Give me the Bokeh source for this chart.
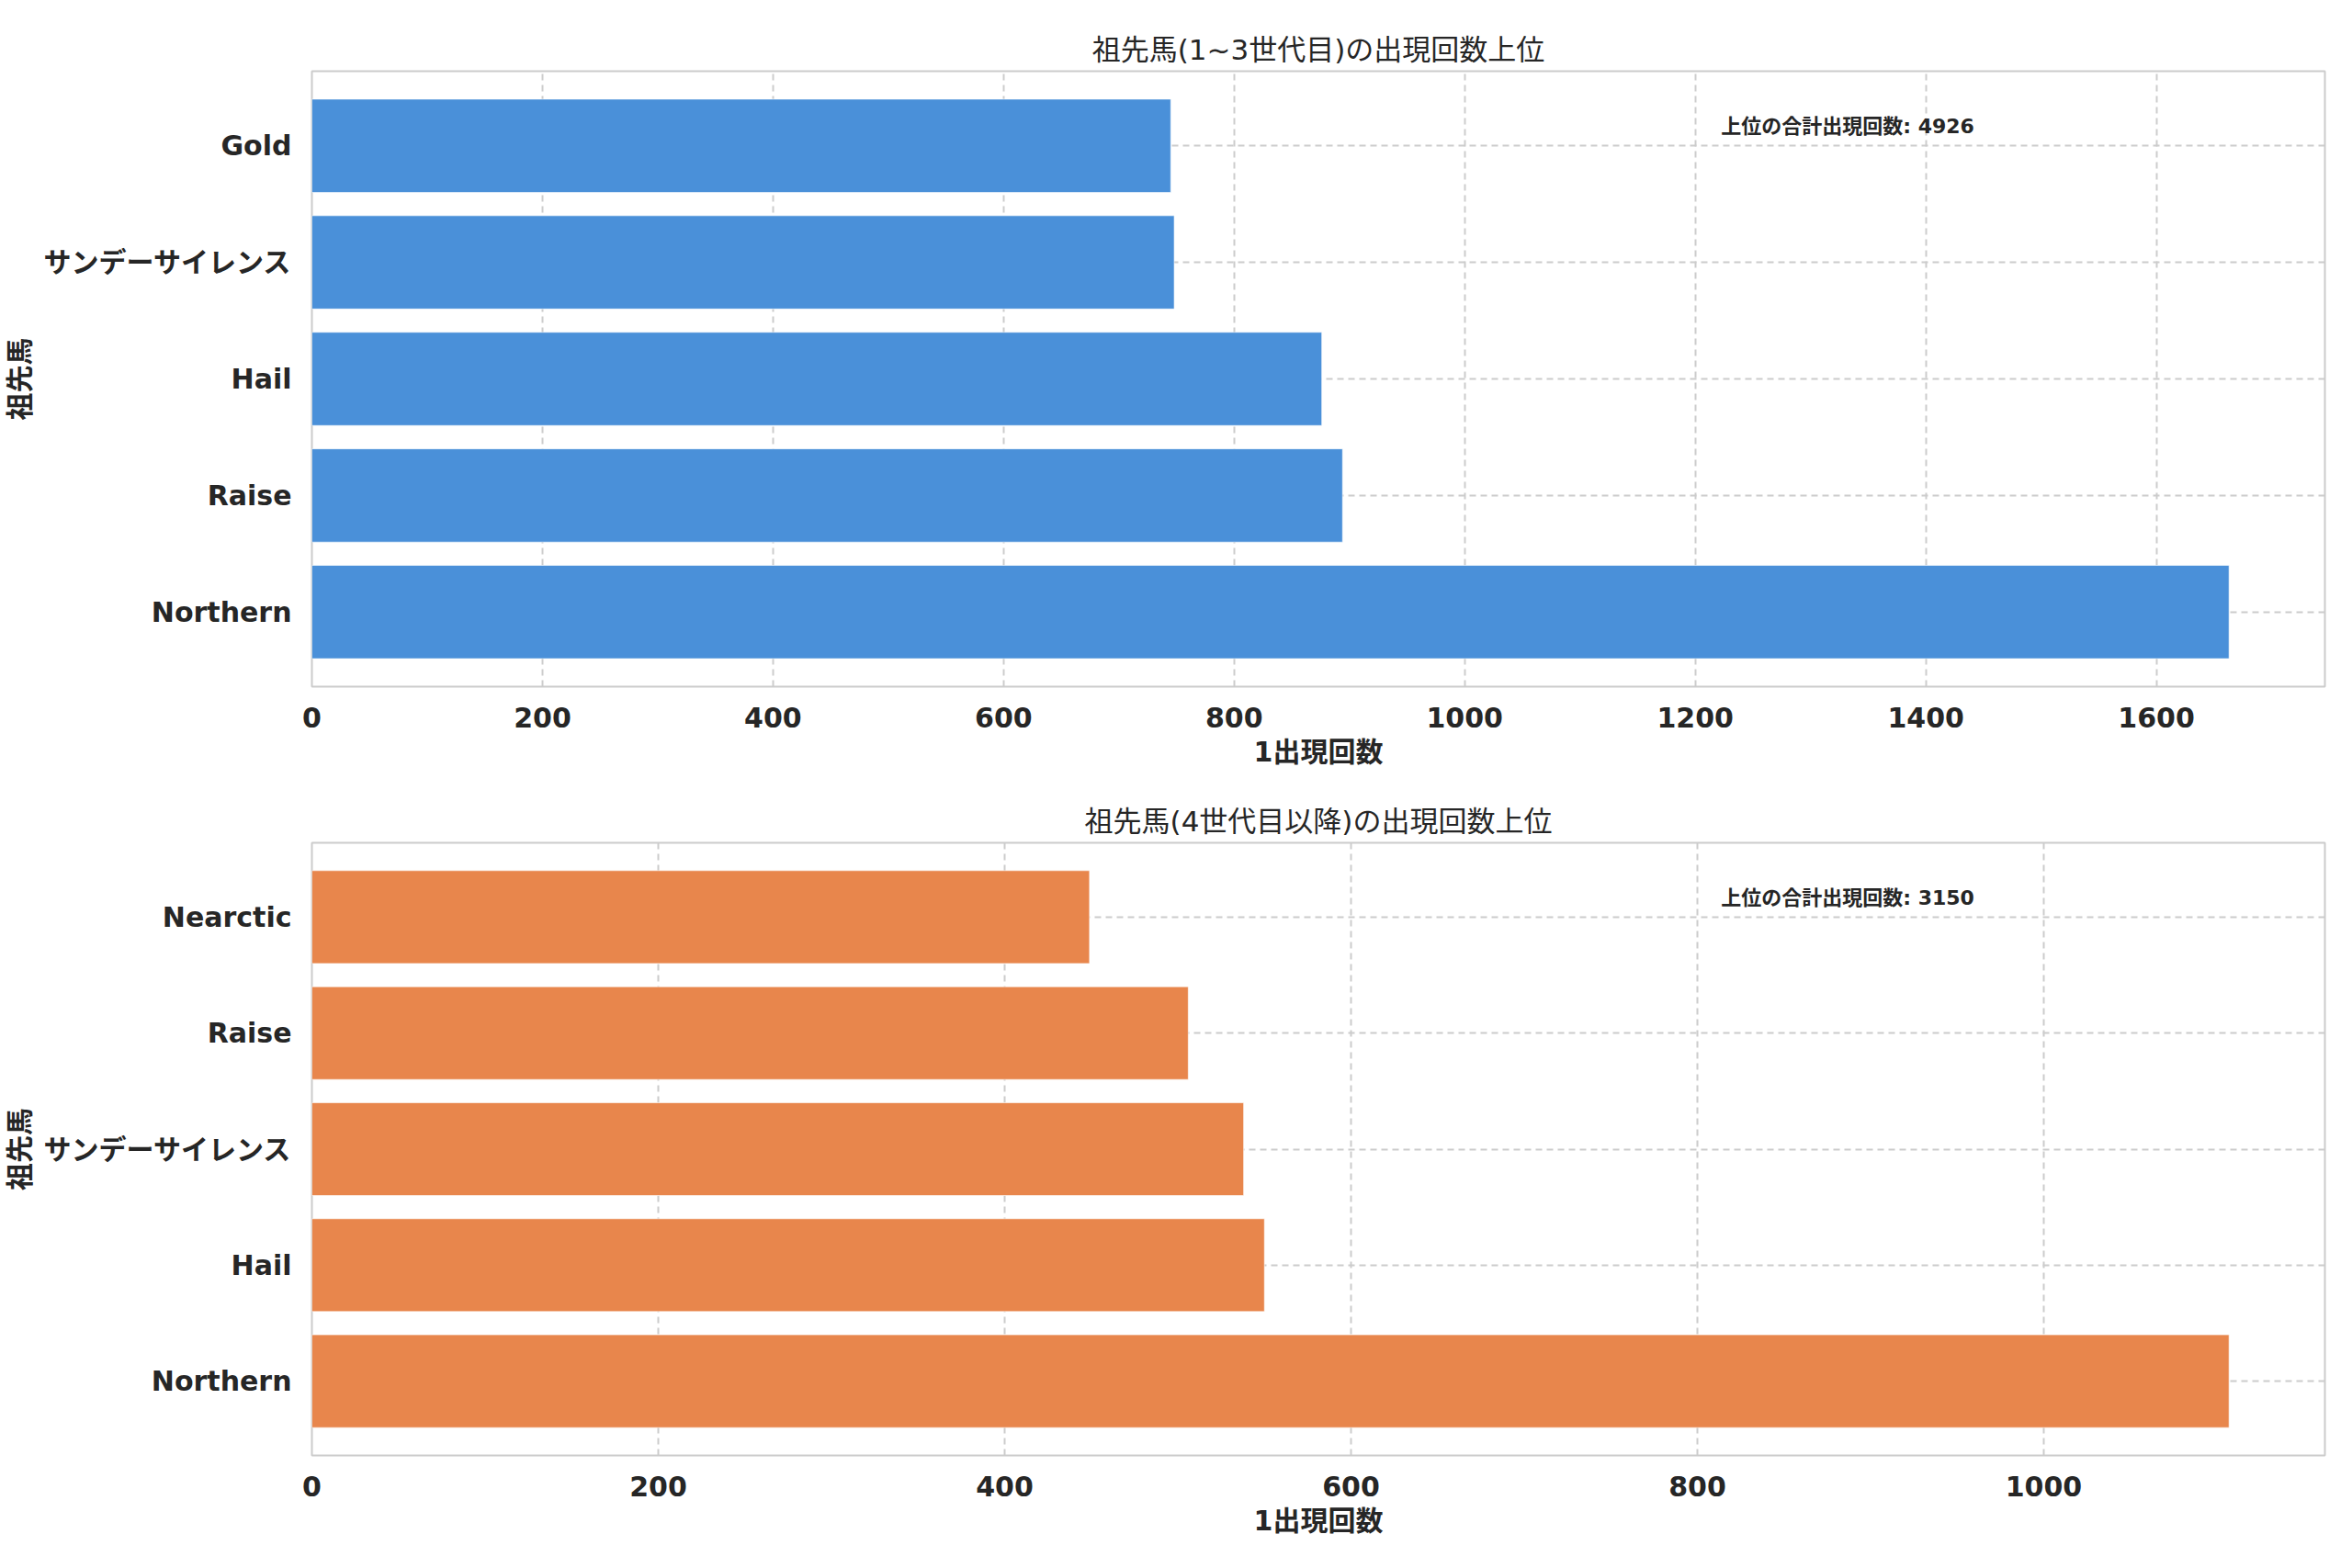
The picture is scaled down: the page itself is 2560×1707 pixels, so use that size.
from bokeh.plotting import figure
from bokeh.layouts import column
from bokeh.models import ColumnDataSource, FixedTicker, Label, Range1d
from bokeh.embed import file_html
from bokeh.resources import INLINE

# ---------------- data ----------------
top_names = ["Northern", "Raise", "Hail", "サンデーサイレンス", "Gold"]
top_counts = [1663, 894, 876, 748, 745]
bottom_names = ["Northern", "Hail", "サンデーサイレンス", "Raise", "Nearctic"]
bottom_counts = [1107, 550, 538, 506, 449]

top_title = "祖先馬(1~3世代目)の出現回数上位"
bottom_title = "祖先馬(4世代目以降)の出現回数上位"
x_label = "1出現回数"
y_label = "祖先馬"
note_label = "上位の合計出現回数"

top_ticks = [0, 200, 400, 600, 800, 1000, 1200, 1400, 1600]
bottom_ticks = [0, 200, 400, 600, 800, 1000]

top_color = "#4A90D9"
bottom_color = "#E8864C"

FONT = "'DejaVu Sans', 'Noto Sans CJK JP', sans-serif"
TXT = "#262626"
GRID = "#cccccc"


def make_fig(names, counts, color, ticks, title, height, b_top, b_bottom):
    n = len(names)
    pos = list(range(n))
    xmax = max(counts) * 1.05
    lo = -0.4 - 0.05 * (n - 0.2)
    hi = n - 1 + 0.4 + 0.05 * (n - 0.2)
    src = ColumnDataSource(dict(pos=pos, count=counts, name=names))

    p = figure(width=2552, height=height,
               x_range=Range1d(0, xmax), y_range=Range1d(lo, hi),
               output_backend="svg", toolbar_location=None,
               min_border_left=247, min_border_right=22,
               min_border_top=b_top, min_border_bottom=b_bottom,
               background_fill_color="white", border_fill_color="white")

    p.hbar(y="pos", right="count", left=0, height=0.8, source=src,
           fill_color=color, line_color="white", line_width=1, line_alpha=0.6)

    # title
    p.title.text = title
    p.title.align = "center"
    p.title.text_font = FONT
    p.title.text_font_size = "31px"
    p.title.text_font_style = "normal"
    p.title.text_color = TXT
    p.title.standoff = 12

    # axes
    p.xaxis.ticker = FixedTicker(ticks=ticks)
    p.yaxis.ticker = FixedTicker(ticks=pos)
    p.yaxis.major_label_overrides = {i: nm for i, nm in zip(pos, names)}
    for ax in (p.xaxis[0], p.yaxis[0]):
        ax.axis_line_color = None
        ax.major_tick_line_color = None
        ax.minor_tick_line_color = None
        ax.major_label_text_font = FONT
        ax.major_label_text_font_size = "30px"
        ax.major_label_text_font_style = "bold"
        ax.major_label_text_color = TXT
        ax.major_label_standoff = 16
        ax.axis_label_text_font = FONT
        ax.axis_label_text_font_size = "30px"
        ax.axis_label_text_font_style = "bold"
        ax.axis_label_text_color = TXT
        ax.axis_label_standoff = 6
    p.xaxis.axis_label = x_label
    p.yaxis.axis_label = y_label

    # grid
    p.xgrid.ticker = FixedTicker(ticks=ticks)
    p.ygrid.ticker = FixedTicker(ticks=pos)
    for g in (p.xgrid[0], p.ygrid[0]):
        g.grid_line_color = GRID
        g.grid_line_dash = "7 5"
        g.grid_line_width = 2

    p.outline_line_color = GRID
    p.outline_line_width = 2

    note = Label(x=0.70 * xmax, y=lo + 0.91 * (hi - lo),
                 text=f"{note_label}: {sum(counts)}",
                 text_align="left", text_baseline="middle",
                 text_font=FONT, text_font_size="22px",
                 text_font_style="bold", text_color=TXT)
    p.add_layout(note)
    return p


p1 = make_fig(top_names, top_counts, top_color, top_ticks, top_title, 845, 77, 98)
p2 = make_fig(bottom_names, bottom_counts, bottom_color, bottom_ticks, bottom_title, 854, 72, 115)

layout = column(p1, p2, spacing=0)
open("out.html", "w").write(file_html(layout, INLINE))
